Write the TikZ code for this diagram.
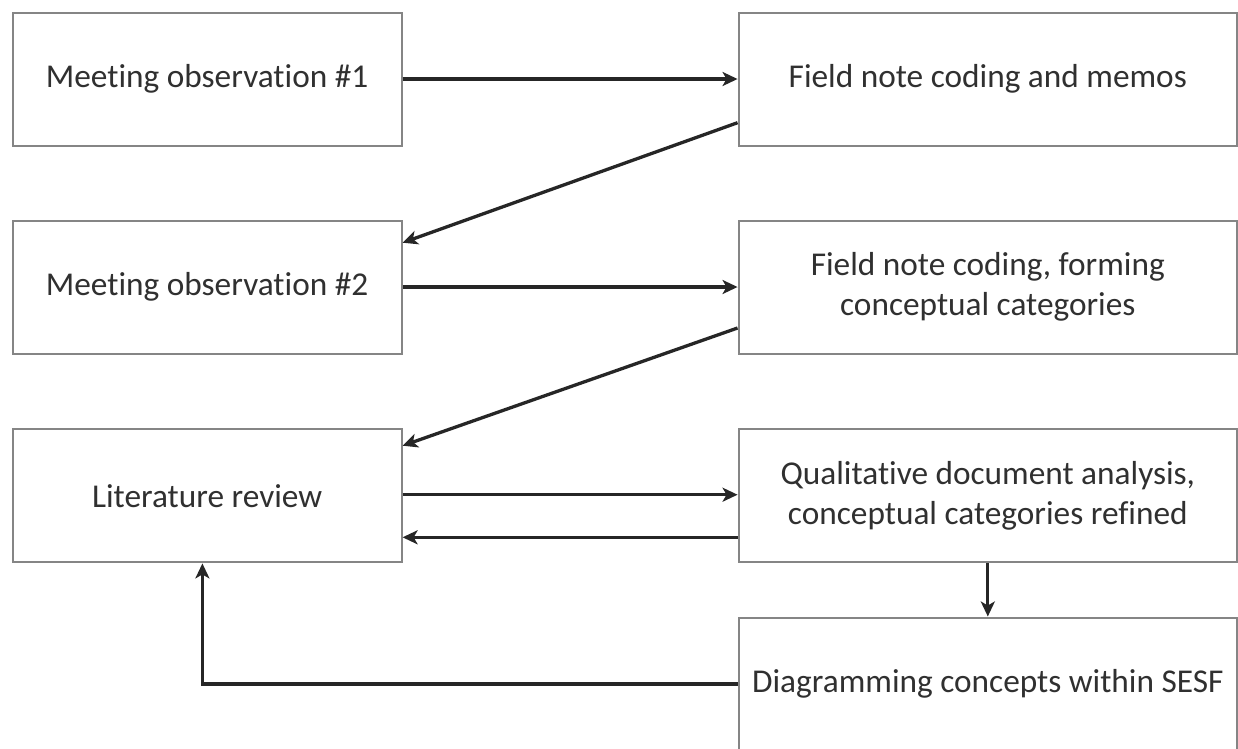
\documentclass[tikz,border=0pt]{standalone}
\usepackage{fontspec}
\setmainfont{Carlito}[Ligatures=NoCommon]
\usetikzlibrary{calc,arrows.meta}
\definecolor{boxgray}{HTML}{858585}
\definecolor{txtgray}{HTML}{303030}
\definecolor{arrgray}{HTML}{262626}
\tikzset{
  stepbox/.style={draw=boxgray, line width=2pt, rectangle, inner sep=0pt,
    align=center, text=txtgray, font=\fontsize{33.3}{40}\selectfont},
  leftbox/.style={stepbox, minimum width=389pt, minimum height=133pt},
  rightbox/.style={stepbox, minimum width=498.5pt, minimum height=133pt},
  flow/.style={draw=arrgray, line width=3.3pt,
    -{Stealth[length=15pt,width=14pt,inset=4pt]}},
}
\begin{document}
\begin{tikzpicture}[x=1pt,y=-1pt]
\useasboundingbox (0,0) rectangle (1238,748);
\clip (0,0) rectangle (1238,748);
\fill[white] (0,0) rectangle (1238,748);
\node[leftbox]  (A) at (207.1,79)    {Meeting observation \#1};
\node[rightbox] (B) at (987.8,79)    {Field note coding and memos};
\node[leftbox]  (C) at (207.1,287)   {Meeting observation \#2};
\node[rightbox] (D) at (987.8,287)   {Field note coding, forming\\conceptual categories};
\node[leftbox]  (E) at (207.1,495.9) {Literature review};
\node[rightbox] (F) at (987.8,495.9) {Qualitative document analysis,\\conceptual categories refined};
\node[rightbox] (G) at (987.8,684)   {Diagramming concepts within SESF};
\draw[flow] (A.east) -- (B.west);
\draw[flow] ($(B.west)+(0,43.7)$) -- ($(C.east)+(0,-44.3)$);
\draw[flow] (C.east) -- (D.west);
\draw[flow] ($(D.west)+(0,41)$) -- ($(E.east)+(0,-50.2)$);
\draw[flow] ($(E.east)+(0,-1.2)$) -- ($(F.west)+(0,-1.2)$);
\draw[flow] ($(F.west)+(0,41.4)$) -- ($(E.east)+(0,41.4)$);
\draw[flow] (F.south) -- (G.north);
\coordinate (eb) at ($(E.south)+(-4.7,0)$);
\coordinate (turn) at (eb |- G.west);
\draw[flow] (G.west) -- (turn) -- (eb);
\end{tikzpicture}
\end{document}
